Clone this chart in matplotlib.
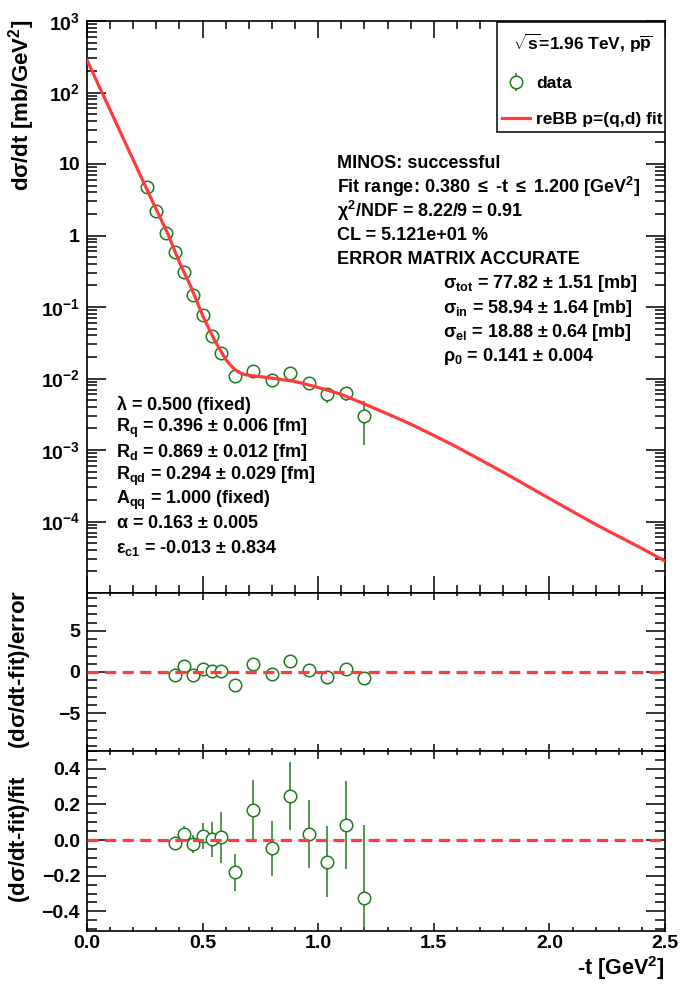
import matplotlib
matplotlib.use('Agg')
import matplotlib.pyplot as plt
from matplotlib.patches import Rectangle
from matplotlib.ticker import MultipleLocator, LogLocator, NullFormatter

plt.rcParams['font.family'] = ['Liberation Sans', 'DejaVu Sans']
plt.rcParams['font.weight'] = 'bold'
plt.rcParams['mathtext.fontset'] = 'custom'
plt.rcParams['mathtext.rm'] = 'Liberation Sans'
plt.rcParams['mathtext.it'] = 'Liberation Sans:italic'
plt.rcParams['mathtext.bf'] = 'Liberation Sans:bold'

t_data = [0.26, 0.30, 0.34, 0.38, 0.42, 0.46, 0.50, 0.54, 0.58,
          0.64, 0.72, 0.80, 0.88, 0.96, 1.04, 1.12, 1.20]
dsdt = [4.82, 2.20, 1.09, 0.582, 0.305, 0.147, 0.0773, 0.0397, 0.0230,
        0.01084, 0.01274, 0.00953, 0.01183, 0.00873, 0.00601, 0.00621, 0.00299]
dsdt_err = [0.15, 0.07, 0.04, 0.012, 0.013, 0.008, 0.0055, 0.0038, 0.0032,
            0.0013, 0.0018, 0.0016, 0.0018, 0.0016, 0.0014, 0.0014, 0.0018]

# points inside the fit range (residual panels)
t_res = [0.38, 0.42, 0.46, 0.50, 0.54, 0.58, 0.64, 0.72, 0.80, 0.88, 0.96, 1.04, 1.12, 1.20]
pull = [-0.37, 0.73, -0.37, 0.41, 0.12, 0.12, -1.63, 1.02, -0.28, 1.34, 0.20, -0.57, 0.41, -0.77]
rel = [-0.019, 0.034, -0.024, 0.022, 0.004, 0.015, -0.181, 0.168, -0.047, 0.248,
       0.034, -0.121, 0.084, -0.323]
rel_err = [0.02, 0.045, 0.05, 0.073, 0.097, 0.141, 0.103, 0.168, 0.156, 0.19,
           0.193, 0.20, 0.248, 0.407]

# reBB fit curve
curve_t = [0.0, 0.05, 0.10, 0.15, 0.20, 0.25, 0.30, 0.35, 0.40, 0.45, 0.50, 0.55,
           0.60, 0.62, 0.64, 0.66, 0.68, 0.70, 0.75, 0.80, 0.90, 1.00, 1.10, 1.20,
           1.30, 1.40, 1.50, 1.60, 1.80, 2.00, 2.20, 2.40, 2.50]
curve_y = [285, 127, 57, 25.5, 11.4, 5.1, 2.3, 1.05, 0.42, 0.19, 0.076, 0.035,
           0.0185, 0.0155, 0.0133, 0.0121, 0.0114, 0.0111, 0.0106, 0.0101, 0.0091,
           0.0075, 0.0060, 0.0044, 0.0032, 0.0023, 0.00160, 0.00110, 0.00049,
           0.00021, 9.1e-5, 4.2e-5, 2.8e-5]

ytick_vals = [1e3, 1e2, 1e1, 1, 1e-1, 1e-2, 1e-3, 1e-4]
ytick_labels = ['10$^\\mathregular{3}$', '10$^\\mathregular{2}$', '10', '1',
                '10$^\\mathregular{\u22121}$', '10$^\\mathregular{\u22122}$',
                '10$^\\mathregular{\u22123}$', '10$^\\mathregular{\u22124}$']

left_text = [r'$\mathrm{\lambda}$ = 0.500 (fixed)',
             r'R$_\mathregular{q}$ = 0.396 $\mathrm{\pm}$ 0.006 [fm]',
             r'R$_\mathregular{d}$ = 0.869 $\mathrm{\pm}$ 0.012 [fm]',
             r'R$_\mathregular{qd}$ = 0.294 $\mathrm{\pm}$ 0.029 [fm]',
             r'A$_\mathregular{qq}$ = 1.000 (fixed)',
             r'$\mathrm{\alpha}$ = 0.163 $\mathrm{\pm}$ 0.005',
             r'$\mathrm{\epsilon}_\mathregular{c1}$ = -0.013 $\mathrm{\pm}$ 0.834']
fit_text = ['MINOS: successful',
            r'Fit range: 0.380 $\mathrm{\leq}$ -t $\mathrm{\leq}$ 1.200 [GeV$^\mathregular{2}$]',
            r'$\mathrm{\chi}^\mathregular{2}$/NDF = 8.22/9 = 0.91',
            'CL = 5.121e+01 %',
            'ERROR MATRIX ACCURATE']
sigma_text = [r'$\mathrm{\sigma}_\mathregular{tot}$ = 77.82 $\mathrm{\pm}$ 1.51 [mb]',
              r'$\mathrm{\sigma}_\mathregular{in}$ = 58.94 $\mathrm{\pm}$ 1.64 [mb]',
              r'$\mathrm{\sigma}_\mathregular{el}$ = 18.88 $\mathrm{\pm}$ 0.64 [mb]',
              r'$\mathrm{\rho}_\mathregular{0}$ = 0.141 $\mathrm{\pm}$ 0.004']

green = '#1f7a1f'
red = '#ff3b3b'
W, H = 685, 991

fig = plt.figure(figsize=(W / 100, H / 100), dpi=100)


def px_axes(x0, y0, x1, y1):
    return fig.add_axes([x0 / W, 1 - y1 / H, (x1 - x0) / W, (y1 - y0) / H])


ax1 = px_axes(87, 21, 665, 593)
ax2 = px_axes(87, 593, 665, 751)
ax3 = px_axes(87, 751, 665, 931)


def ax_frac(px, py):
    # pixel position inside the top panel -> axes fraction
    return (px - 87) / 578, 1 - (py - 21) / 572


for ax in (ax1, ax2, ax3):
    ax.set_xlim(0, 2.5)
    ax.xaxis.set_major_locator(MultipleLocator(0.5))
    ax.xaxis.set_minor_locator(MultipleLocator(0.1))
    for s in ax.spines.values():
        s.set_linewidth(1.2)
    ax.tick_params(which='both', direction='in', top=True, right=True, width=1.1,
                   labelsize=14)
    ax.tick_params(axis='y', which='major', length=14, pad=5)
    ax.tick_params(axis='y', which='minor', length=7)

ax1.tick_params(axis='x', which='major', length=12, labelbottom=False)
ax1.tick_params(axis='x', which='minor', length=6)
ax2.tick_params(axis='x', which='major', length=5, labelbottom=False)
ax2.tick_params(axis='x', which='minor', length=2.5)
ax3.tick_params(axis='x', which='major', length=6, pad=3)
ax3.tick_params(axis='x', which='minor', length=3)

# top panel
ax1.set_yscale('log')
ax1.set_ylim(1e-5, 1e3)
ax1.set_yticks(ytick_vals, ytick_labels)
ax1.yaxis.set_minor_locator(LogLocator(base=10, subs=range(2, 10), numticks=20))
ax1.yaxis.set_minor_formatter(NullFormatter())

eb = ax1.errorbar(t_data, dsdt, yerr=dsdt_err, fmt='o', ms=9, mfc='white', mec=green,
                  mew=1.1, ecolor=green, elinewidth=1.1, capsize=0, zorder=3,
                  label='data')
fit_line, = ax1.plot(curve_t, curve_y, color=red, lw=2.3, zorder=4,
                     label='reBB p=(q,d) fit')

# legend box drawn as a frame, entries placed inside it
bx0, by0 = ax_frac(497, 132)
bx1, by1 = ax_frac(665, 22)
ax1.add_patch(Rectangle((bx0, by0), bx1 - bx0, by1 - by0, transform=ax1.transAxes,
                        facecolor='white', edgecolor='black', lw=1.1, zorder=5))
leg = ax1.legend(handles=[eb, fit_line], loc='upper right',
                 bbox_to_anchor=ax_frac(663, 32), borderaxespad=0, borderpad=0,
                 frameon=False, prop={'size': 12.5, 'weight': 'bold'},
                 title=r'$\sqrt{\mathregular{s}}$=1.96 TeV, p$\overline{\mathregular{p}}$',
                 title_fontproperties={'size': 12.5, 'weight': 'bold'},
                 handlelength=1.65, handletextpad=0.35, labelspacing=1.2)
leg.set_zorder(6)

for i, s in enumerate(fit_text):
    ax1.text(*ax_frac(337, 163 + 24.1 * i), s, fontsize=13,
             va='center', ha='left', transform=ax1.transAxes)
for i, s in enumerate(sigma_text):
    ax1.text(*ax_frac(443, 284 + 24.1 * i), s, fontsize=13,
             va='center', ha='left', transform=ax1.transAxes)
for i, s in enumerate(left_text):
    ax1.text(*ax_frac(116, 405 + 23.8 * i), s, fontsize=13,
             va='center', ha='left', transform=ax1.transAxes)

# middle panel: pulls
ax2.set_ylim(-9.6, 9.6)
ax2.yaxis.set_major_locator(MultipleLocator(5))
ax2.yaxis.set_minor_locator(MultipleLocator(1))
ax2.plot(t_res, pull, 'o', ms=9, mfc='white', mec=green, mew=1.1, zorder=3)
ax2.axhline(0, color=red, lw=2.3, ls=(0, (3.5, 2)), zorder=4)

# bottom panel: relative residuals
ax3.set_ylim(-0.51, 0.5)
ax3.yaxis.set_major_locator(MultipleLocator(0.2))
ax3.yaxis.set_minor_locator(MultipleLocator(0.05))
ax3.errorbar(t_res, rel, yerr=rel_err, fmt='o', ms=9, mfc='white', mec=green, mew=1.1,
             ecolor=green, elinewidth=1.1, capsize=0, zorder=3)
ax3.axhline(0, color=red, lw=2.3, ls=(0, (3.5, 2)), zorder=4)

fig.text(22 / W, 1 - 20 / H, r'd$\mathrm{\sigma}$/dt [mb/GeV$^\mathregular{2}$]',
         rotation=90, ha='center', va='top', fontsize=16)
fig.text(20 / W, 1 - 669 / H, r'(d$\mathrm{\sigma}$/dt-fit)/error',
         rotation=90, ha='center', va='center', fontsize=16)
fig.text(20 / W, 1 - 839 / H, r'(d$\mathrm{\sigma}$/dt-fit)/fit',
         rotation=90, ha='center', va='center', fontsize=16)
fig.text(665 / W, 1 - 968 / H, r'-t [GeV$^\mathregular{2}$]', ha='right', va='center',
         fontsize=15.5)

fig.savefig('out.png', dpi=100)
